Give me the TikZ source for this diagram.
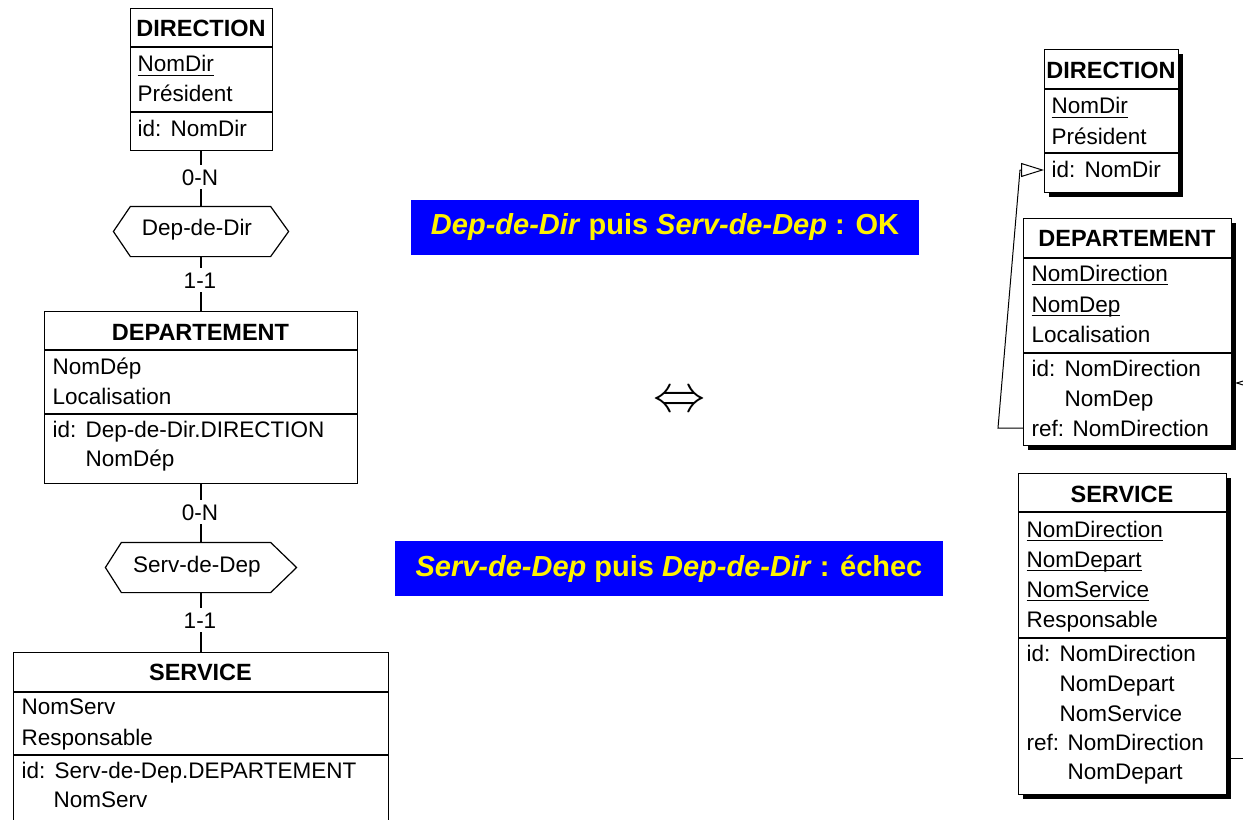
\documentclass[tikz,border=0pt]{standalone}
\usepackage{fontspec}
\setmainfont{Liberation Sans}
\usetikzlibrary{shadows,arrows.meta,calc}
\newcommand\af{\fontsize{22.5bp}{27bp}\selectfont}
\newcommand\tf{\fontsize{23.5bp}{27bp}\selectfont\bfseries}
\newcommand\bannerfont{\fontsize{29bp}{33bp}\selectfont\bfseries}
\newcommand\ulx[1]{\sbox0{#1}\rlap{\rule[-4bp]{\wd0}{1.3bp}}\usebox0}
\newcommand\idl[1]{\makebox[33bp][l]{#1}}
\newcommand\refl[1]{\makebox[41bp][l]{#1}}
\begin{document}
\begin{tikzpicture}[x=1bp,y=-1bp,line width=1.2bp,
  ent/.style={draw,line width=1.2bp,anchor=north west,inner sep=0,fill=white},
  shent/.style={ent,drop shadow={shadow xshift=4.5bp,shadow yshift=-4.5bp,fill=black,opacity=1}},
  attr/.style={anchor=base west,inner sep=0,font=\af},
  ttl/.style={anchor=base,inner sep=0,font=\tf},
  card/.style={anchor=base,inner sep=3.5bp,font=\af},
  hexa/.style={inner sep=0,minimum height=49bp},
  banner/.style={fill=blue,text=yellow,font=\bannerfont,inner sep=0,minimum height=55bp},
  fk/.style={line width=1bp,-{Triangle[open,length=23bp,width=14bp]}},
  sep/.style={line width=1.2bp}
]
\useasboundingbox (0,0) rectangle (1243,820);
\clip (0,0) rectangle (1243,820);

% ---------- left schema ----------
\node[ent,minimum width=142bp,minimum height=142bp] (ldir) at (130,8) {};
\draw[sep] (ldir.west |- 0,47) -- (ldir.east |- 0,47);
\draw[sep] (ldir.west |- 0,112) -- (ldir.east |- 0,112);
\node[ttl] (ldirT) at (201,37) {DIRECTION};
\node[attr] (ldirA1) at (137,72) {\ulx{NomDir}};
\node[attr] (ldirA2) at (137,102) {Président};
\node[attr] (ldirI1) at (137,136) {\idl{id:}NomDir};

\node[hexa,minimum width=174bp] (h1) at (201,231.5) {};
\draw (h1.west) -- ($(h1.north west)+(17,0)$) -- ($(h1.north east)+(-18,0)$) -- (h1.east)
      -- ($(h1.south east)+(-18,0)$) -- ($(h1.south west)+(17,0)$) -- cycle;
\node[anchor=base,inner sep=0,font=\af] (h1T) at (197,235) {Dep-de-Dir};

\node[ent,minimum width=313bp,minimum height=172bp] (ldep) at (44,311) {};
\draw[sep] (ldep.west |- 0,350) -- (ldep.east |- 0,350);
\draw[sep] (ldep.west |- 0,414) -- (ldep.east |- 0,414);
\node[ttl] (ldepT) at (200.5,340) {DEPARTEMENT};
\node[attr] (ldepA1) at (52,374) {NomDép};
\node[attr] (ldepA2) at (52,404) {Localisation};
\node[attr] (ldepI1) at (52,437) {\idl{id:}Dep-de-Dir.DIRECTION};
\node[attr] (ldepI2) at (85,466) {NomDép};

\node[hexa,minimum width=190bp] (h2) at (201,567.5) {};
\draw (h2.west) -- ($(h2.north west)+(16,0)$) -- ($(h2.north east)+(-26,0)$) -- (h2.east)
      -- ($(h2.south east)+(-26,0)$) -- ($(h2.south west)+(16,0)$) -- cycle;
\node[anchor=base,inner sep=0,font=\af] (h2T) at (197,572) {Serv-de-Dep};

\node[ent,minimum width=375bp,minimum height=180bp] (lser) at (13,652) {};
\draw[sep] (lser.west |- 0,692) -- (lser.east |- 0,692);
\draw[sep] (lser.west |- 0,755) -- (lser.east |- 0,755);
\node[ttl] (lserT) at (200.5,680) {SERVICE};
\node[attr] (lserA1) at (21,714) {NomServ};
\node[attr] (lserA2) at (21,745) {Responsable};
\node[attr] (lserI1) at (21,778) {\idl{id:}Serv-de-Dep.DEPARTEMENT};
\node[attr] (lserI2) at (53,807) {NomServ};

% cardinalities and role lines
\node[card] (c1) at (200,185) {0-N};
\node[card] (c2) at (200,288) {1-1};
\node[card] (c3) at (200,520) {0-N};
\node[card] (c4) at (200,628) {1-1};
\draw (ldir.south -| 201,0) -- (c1.north -| 201,0);
\draw (c1.south -| 201,0) -- (h1.north -| 201,0);
\draw (h1.south -| 201,0) -- (c2.north -| 201,0);
\draw (c2.south -| 201,0) -- (ldep.north -| 201,0);
\draw (ldep.south -| 201,0) -- (c3.north -| 201,0);
\draw (c3.south -| 201,0) -- (h2.north -| 201,0);
\draw (h2.south -| 201,0) -- (c4.north -| 201,0);
\draw (c4.south -| 201,0) -- (lser.north -| 201,0);

% ---------- middle ----------
\node[banner,minimum width=508bp] (ok) at (665,227.5) {\textit{Dep-de-Dir} puis \textit{Serv-de-Dep} : OK};
\node[banner,minimum width=548bp] (ko) at (669,568.5) {\textit{Serv-de-Dep} puis \textit{Dep-de-Dir} : échec};
\node[inner sep=0] (eq) at (680,402) {\scalebox{2.1}{\fontsize{24.88pt}{25pt}\selectfont$\Leftrightarrow$}};

% ---------- right schema: connectors ----------
\coordinate (rdepRef) at (1023,428);
\coordinate (rdirId) at (1044,170);
\coordinate (rserRef) at (1226,758);
\coordinate (rdepId) at (1235,383);
\draw[fk] (rdepRef) -- (998,428) -- (1020,170) -- (rdirId);
\draw[fk] (rserRef) -- (1262,758) -- (1262,383) -- (rdepId);

% ---------- right schema: tables ----------
\node[shent,minimum width=134bp,minimum height=143bp] (rdir) at (1044,49) {};
\draw[sep] (rdir.west |- 0,89) -- (rdir.east |- 0,89);
\draw[sep] (rdir.west |- 0,153) -- (rdir.east |- 0,153);
\node[ttl] (rdirT) at (1111,79) {DIRECTION};
\node[attr] (rdirA1) at (1051,114) {\ulx{NomDir}};
\node[attr] (rdirA2) at (1051,144) {Président};
\node[attr] (rdirI1) at (1051,177) {\idl{id:}NomDir};

\node[shent,minimum width=208bp,minimum height=227bp] (rdep) at (1023,218) {};
\draw[sep] (rdep.west |- 0,258) -- (rdep.east |- 0,258);
\draw[sep] (rdep.west |- 0,353) -- (rdep.east |- 0,353);
\node[ttl] (rdepT) at (1127,246) {DEPARTEMENT};
\node[attr] (rdepA1) at (1031,281) {\ulx{NomDirection}};
\node[attr] (rdepA2) at (1031,312) {\ulx{NomDep}};
\node[attr] (rdepA3) at (1031,342) {Localisation};
\node[attr] (rdepI1) at (1031,376) {\idl{id:}NomDirection};
\node[attr] (rdepI2) at (1064,406) {NomDep};
\node[attr] (rdepR1) at (1031,436) {\refl{ref:}NomDirection};

\node[shent,minimum width=208bp,minimum height=321bp] (rser) at (1018,473) {};
\draw[sep] (rser.west |- 0,512) -- (rser.east |- 0,512);
\draw[sep] (rser.west |- 0,638) -- (rser.east |- 0,638);
\node[ttl] (rserT) at (1122,502) {SERVICE};
\node[attr] (rserA1) at (1026,537) {\ulx{NomDirection}};
\node[attr] (rserA2) at (1026,567) {\ulx{NomDepart}};
\node[attr] (rserA3) at (1026,597) {\ulx{NomService}};
\node[attr] (rserA4) at (1026,627) {Responsable};
\node[attr] (rserI1) at (1026,661) {\idl{id:}NomDirection};
\node[attr] (rserI2) at (1059,691) {NomDepart};
\node[attr] (rserI3) at (1059,721) {NomService};
\node[attr] (rserR1) at (1026,750) {\refl{ref:}NomDirection};
\node[attr] (rserR2) at (1067,779) {NomDepart};
\end{tikzpicture}
\end{document}
